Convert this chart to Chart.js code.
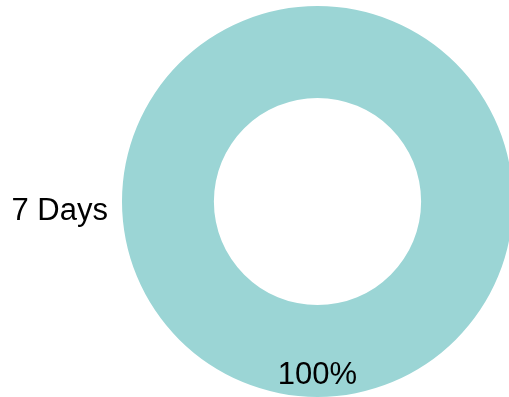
<!DOCTYPE html>
<html lang="en">
<head>
  <meta charset="UTF-8">
  <title>7 Days</title>
  <script src="https://cdn.jsdelivr.net/npm/chart.js"></script>
  <style>
    html, body { margin: 0; padding: 0; overflow: hidden; background: #fff; }
    #wrap { width: 520px; height: 397px; position: relative; }
  </style>
</head>
<body>
  <div id="wrap"><canvas id="chart"></canvas></div>

  <script>
    const labels = ['7 Days'];
    const values = [100];
    const colors = ['#9bd5d5'];

    // category name left of the ring, share at the bottom of the ring
    const sideLabels = {
      id: 'sideLabels',
      afterDatasetsDraw(chart) {
        const arc = chart.getDatasetMeta(0).data[0];
        if (!arc) return;
        const { x, y, outerRadius } = arc.getProps(['x', 'y', 'outerRadius'], true);
        const total = values.reduce((a, b) => a + b, 0);
        const ctx = chart.ctx;
        ctx.save();
        ctx.fillStyle = '#000';
        ctx.font = '31px Arial, "Liberation Sans", sans-serif';
        ctx.textBaseline = 'middle';

        ctx.textAlign = 'right';
        ctx.fillText(labels[0], x - outerRadius - 14, y + 10);

        ctx.textAlign = 'center';
        const pct = Math.round(values[0] / total * 100) + '%';
        ctx.fillText(pct, x, y + outerRadius - 22);
        ctx.restore();
      }
    };

    new Chart(document.getElementById('chart'), {
      type: 'doughnut',
      data: {
        labels: labels,
        datasets: [{
          data: values,
          backgroundColor: colors,
          borderWidth: 0
        }]
      },
      options: {
        animation: false,
        responsive: true,
        maintainAspectRatio: false,
        cutout: '53%',
        layout: { padding: { left: 122, right: 7, top: 6, bottom: 0 } },
        plugins: {
          legend: { display: false },
          tooltip: { enabled: false }
        }
      },
      plugins: [sideLabels]
    });
  </script>
</body>
</html>
